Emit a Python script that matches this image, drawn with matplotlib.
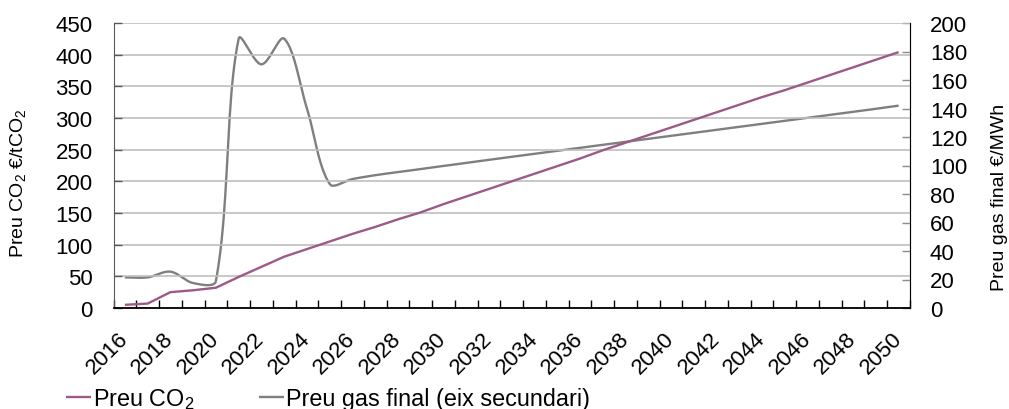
import numpy as np
import matplotlib
matplotlib.use('Agg')
import matplotlib.pyplot as plt
from matplotlib.ticker import FixedLocator

years = list(range(2016, 2051))
co2_price = [5, 7, 25, 28, 32, 49, 65, 81, 93, 105, 117, 128, 140, 151, 164, 176,
             188, 200, 212, 224, 236, 249, 261, 273, 285, 297, 309, 321, 333, 344,
             356, 368, 380, 392, 404]
gas_price = [21.5, 21.5, 25.5, 17.5, 19, 189, 171, 189, 140, 87, 90.5, 93.2, 95.4,
             97.5, 99.7, 101.8, 104.0, 106.1, 108.2, 110.3, 112.4, 114.5, 116.6,
             118.7, 120.8, 122.9, 125.0, 127.1, 129.2, 131.3, 133.4, 135.5, 137.6,
             139.8, 142.0]
left_ticks = list(range(0, 451, 50))
right_ticks = list(range(0, 201, 20))
xtick_years = list(range(2016, 2051, 2))

co2_label = 'Preu CO$_2$'
gas_label = 'Preu gas final (eix secundari)'
left_title = 'Preu CO$_2$ €/tCO$_2$'
right_title = 'Preu gas final €/MWh'

purple = '#9B5A87'
gray = '#7F7F7F'

plt.rcParams['font.family'] = ['Liberation Sans', 'DejaVu Sans']
plt.rcParams['mathtext.fontset'] = 'custom'
plt.rcParams['mathtext.rm'] = 'Liberation Sans'
plt.rcParams['mathtext.it'] = 'Liberation Sans:italic'
plt.rcParams['mathtext.default'] = 'regular'

W, H = 1009, 410
fig = plt.figure(figsize=(W / 100, H / 100), dpi=100)
L, R, T, B = 113.5, 910, 24, 309
ax = fig.add_axes([L / W, 1 - B / H, (R - L) / W, (B - T) / H])
ax2 = ax.twinx()

ax.set_xlim(2015.5, 2050.5)
ax.set_ylim(0, 450)
ax2.set_ylim(0, 200)

ax.set_yticks(left_ticks)
ax2.set_yticks(right_ticks)
ax.yaxis.grid(True, color='#BFBFBF', linewidth=1.2)
ax.set_axisbelow(True)

ax.set_xticks(xtick_years)
ax.set_xticklabels([str(y) for y in xtick_years], rotation=45, ha='right', va='center',
                   rotation_mode='anchor', fontsize=16)
ax.xaxis.set_minor_locator(FixedLocator(np.arange(2015.5, 2051, 1)))
ax.tick_params(axis='x', which='major', length=0, pad=19.5)
ax.tick_params(axis='x', which='minor', length=6, direction='in', width=1, color='black')
ax.tick_params(axis='y', which='major', length=6, direction='in', width=1,
               color='#595959', labelsize=16, pad=15)
ax2.tick_params(axis='y', which='major', length=6, direction='in', width=1,
                color='#8C8C8C', labelsize=16, pad=14.4)

for a in (ax, ax2):
    a.spines['top'].set_visible(False)
ax.spines['left'].set_color('#595959')
ax.spines['bottom'].set_color('black')
ax.spines['bottom'].set_linewidth(1.3)
ax2.spines['right'].set_color('#8C8C8C')
ax2.spines['left'].set_visible(False)
ax2.spines['bottom'].set_visible(False)


def excel_smooth(xs, ys, axis, n=24):
    pts = axis.transData.transform(np.column_stack([xs, ys]))
    out = [pts[0]]
    N = len(pts)
    for i in range(N - 1):
        p0 = pts[i - 1] if i > 0 else pts[i]
        p1 = pts[i]
        p2 = pts[i + 1]
        p3 = pts[i + 2] if i + 2 < N else pts[i + 1]
        d01 = np.hypot(*(p1 - p0))
        d12 = np.hypot(*(p2 - p1))
        d23 = np.hypot(*(p3 - p2))
        c1 = p1 + (p2 - p0) * d12 / (3 * (d01 + d12))
        c2 = p2 - (p3 - p1) * d12 / (3 * (d12 + d23))
        t = np.linspace(0, 1, n)[1:, None]
        seg = ((1 - t) ** 3) * p1 + 3 * ((1 - t) ** 2) * t * c1 + 3 * (1 - t) * (t ** 2) * c2 + (t ** 3) * p2
        out.extend(seg)
    return axis.transData.inverted().transform(np.array(out))


sm = excel_smooth(years, gas_price, ax2)
l2, = ax2.plot(sm[:, 0], sm[:, 1], color=gray, linewidth=1.7, solid_capstyle='butt')
l1, = ax.plot(years, co2_price, color=purple, linewidth=1.7, solid_capstyle='butt')
ax.set_zorder(ax2.get_zorder() + 1)
ax.patch.set_visible(False)

fig.text(18 / W, 1 - 183 / H, left_title, rotation=90, ha='center', va='center', fontsize=14)
fig.text(999 / W, 1 - 197 / H, right_title, rotation=90, ha='center', va='center', fontsize=14)

fig.legend([l1, l2], [co2_label, gas_label], loc='lower left',
           bbox_to_anchor=(66 / W, -2 / H), ncol=2, frameon=False, fontsize=16.8,
           handlelength=1.05, handletextpad=0.12, columnspacing=2.75,
           borderaxespad=0, borderpad=0)

fig.savefig('out.png', dpi=100)
